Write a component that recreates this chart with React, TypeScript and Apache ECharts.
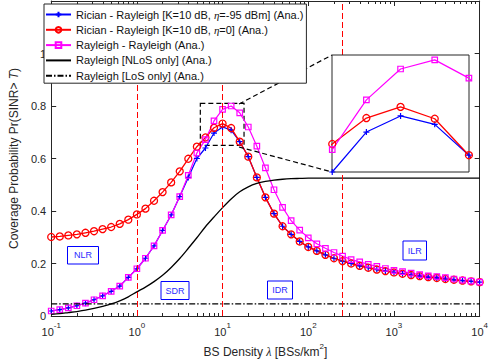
import React, { useEffect, useRef } from 'react';
import * as echarts from 'echarts';

// BS density lambda [BSs/km^2] (0.1 decade steps)
const lambdaVals = [
  0.1, 0.1259, 0.1585, 0.1995, 0.2512, 0.3162, 0.3981, 0.5012, 0.631, 0.7943,
  1, 1.259, 1.585, 1.995, 2.512, 3.162, 3.981, 5.012, 6.31, 7.943,
  10, 12.59, 15.85, 19.95, 25.12, 31.62, 39.81, 50.12, 63.1, 79.43,
  100, 125.9, 158.5, 199.5, 251.2, 316.2, 398.1, 501.2, 631, 794.3,
  1000, 1259, 1585, 1995, 2512, 3162, 3981, 5012, 6310, 7943, 10000,
];

const ricianEta95 = [
  0.019, 0.024, 0.031, 0.039, 0.049, 0.062, 0.077, 0.094, 0.114, 0.147,
  0.180, 0.220, 0.267, 0.326, 0.385, 0.455, 0.528, 0.600, 0.640, 0.697,
  0.720, 0.708, 0.664, 0.607, 0.528, 0.452, 0.390, 0.342, 0.311, 0.284,
  0.263, 0.248, 0.233, 0.220, 0.209, 0.200, 0.191, 0.184, 0.177, 0.171,
  0.166, 0.161, 0.156, 0.152, 0.148, 0.145, 0.141, 0.138, 0.135, 0.132, 0.129,
];

const ricianEta0 = [
  0.301, 0.303, 0.307, 0.311, 0.317, 0.323, 0.331, 0.339, 0.351, 0.367,
  0.387, 0.409, 0.439, 0.472, 0.509, 0.551, 0.599, 0.645, 0.680, 0.717,
  0.733, 0.716, 0.664, 0.607, 0.528, 0.452, 0.390, 0.342, 0.311, 0.284,
  0.263, 0.248, 0.233, 0.220, 0.209, 0.200, 0.191, 0.184, 0.177, 0.171,
  0.166, 0.161, 0.156, 0.152, 0.148, 0.145, 0.141, 0.138, 0.135, 0.132, 0.129,
];

const rayleighRayleigh = [
  0.019, 0.024, 0.031, 0.039, 0.049, 0.062, 0.077, 0.094, 0.114, 0.147,
  0.180, 0.220, 0.267, 0.326, 0.385, 0.455, 0.536, 0.621, 0.672, 0.743,
  0.787, 0.800, 0.774, 0.720, 0.647, 0.564, 0.481, 0.414, 0.363, 0.327,
  0.298, 0.275, 0.258, 0.242, 0.228, 0.215, 0.206, 0.197, 0.189, 0.181,
  0.174, 0.169, 0.163, 0.158, 0.153, 0.150, 0.146, 0.141, 0.137, 0.133, 0.129,
];

const nlosOnly = [
  0.006, 0.009, 0.013, 0.017, 0.022, 0.029, 0.037, 0.046, 0.058, 0.073,
  0.092, 0.110, 0.131, 0.155, 0.185, 0.219, 0.258, 0.298, 0.340, 0.377,
  0.413, 0.446, 0.473, 0.492, 0.505, 0.513, 0.518, 0.521, 0.523, 0.524,
  0.525, 0.525, 0.525, 0.525, 0.525, 0.525, 0.525, 0.525, 0.525, 0.525,
  0.525, 0.525, 0.525, 0.525, 0.525, 0.525, 0.525, 0.525, 0.525, 0.525, 0.525,
];

const losOnly = [
  0.046, 0.046, 0.046, 0.046, 0.046, 0.046, 0.046, 0.046, 0.046, 0.046,
  0.046, 0.046, 0.046, 0.046, 0.046, 0.046, 0.046, 0.046, 0.046, 0.046,
  0.046, 0.046, 0.046, 0.046, 0.046, 0.046, 0.046, 0.046, 0.046, 0.046,
  0.046, 0.046, 0.046, 0.046, 0.046, 0.046, 0.046, 0.046, 0.046, 0.046,
  0.046, 0.046, 0.046, 0.046, 0.046, 0.046, 0.046, 0.046, 0.046, 0.046, 0.046,
];

const seriesNames = [
  'Rician - Rayleigh [K=10 dB, η=-95 dBm] (Ana.)',
  'Rician - Rayleigh [K=10 dB, η=0] (Ana.)',
  'Rayleigh - Rayleigh (Ana.)',
  'Rayleigh [NLoS only] (Ana.)',
  'Rayleigh [LoS only] (Ana.)',
];

// region boundaries (vertical dashed lines)
const regionBounds = [1, 10, 250];
const regionLabels = ['NLR', 'SDR', 'IDR', 'ILR'];

// zoom window shown in inset
const zoomX = [5.5, 17.8];
const zoomY = [0.65, 0.81];
const insetX = [6.3, 15.86];
const insetY = [0.64, 0.807];

const minorTicks = [
  0.2, 0.3, 0.4, 0.5, 0.6, 0.7, 0.8, 0.9,
  2, 3, 4, 5, 6, 7, 8, 9,
  20, 30, 40, 50, 60, 70, 80, 90,
  200, 300, 400, 500, 600, 700, 800, 900,
  2000, 3000, 4000, 5000, 6000, 7000, 8000, 9000,
];

const FONT = "'Liberation Sans', Arial, Helvetica, sans-serif";
const AX = '#262626';
const BLUE = '#0000ff';
const RED = '#ff0000';
const MAG = '#ff00ff';

const zip = (ys: number[]) => lambdaVals.map((x, i) => [x, ys[i]]);

const PLUS = 'path://M0,5L10,5M5,0L5,10';

function curveSeries(idx: number, xAxisIndex: number, yAxisIndex: number, z: number) {
  const common: any = {
    type: 'line',
    name: seriesNames[idx],
    xAxisIndex,
    yAxisIndex,
    z,
    clip: true,
    silent: true,
  };
  if (idx === 0) {
    return {
      ...common,
      data: zip(ricianEta95),
      symbol: PLUS,
      symbolSize: 6,
      lineStyle: { color: BLUE, width: 1.2 },
      itemStyle: { color: BLUE, borderColor: BLUE, borderWidth: 1.2 },
    };
  }
  if (idx === 1) {
    return {
      ...common,
      data: zip(ricianEta0),
      symbol: 'circle',
      symbolSize: 7,
      lineStyle: { color: RED, width: 1.3 },
      itemStyle: { color: 'rgba(0,0,0,0)', borderColor: RED, borderWidth: 1.3 },
    };
  }
  return {
    ...common,
    data: zip(rayleighRayleigh),
    symbol: 'rect',
    symbolSize: 5.5,
    lineStyle: { color: MAG, width: 1.2 },
    itemStyle: { color: 'rgba(0,0,0,0)', borderColor: MAG, borderWidth: 1.2 },
  };
}

function regionBox(label: string, x: number, y: number, w: number, h: number) {
  return {
    type: 'group',
    z: 6,
    children: [
      {
        type: 'rect',
        shape: { x, y, width: w, height: h },
        style: { fill: '#fff', stroke: BLUE, lineWidth: 1 },
        z: 6,
      },
      {
        type: 'text',
        x: x + w / 2,
        y: y + h / 2,
        style: {
          text: label,
          fill: '#2b2bff',
          font: `9px ${FONT}`,
          align: 'center',
          verticalAlign: 'middle',
        },
        z: 7,
      },
    ],
  };
}

export default function App() {
  const ref = useRef<HTMLDivElement>(null);
  useEffect(() => {
    const chart = echarts.init(ref.current!, undefined, { renderer: 'svg' });
    const xLabelRich = {
      b: { fontSize: 11, fontFamily: FONT, color: AX, lineHeight: 16, verticalAlign: 'bottom' },
      s: { fontSize: 8, fontFamily: FONT, color: AX, lineHeight: 8, verticalAlign: 'top' },
    };
    const hiddenSymbol = { color: 'rgba(0,0,0,0)', borderColor: 'rgba(0,0,0,0)', borderWidth: 0 };
    const option: any = {
      animation: false,
      backgroundColor: '#fff',
      textStyle: { fontFamily: FONT },
      grid: [
        { left: 40, right: 9, top: 1, bottom: 44, show: false },
        {
          left: 332, top: 55, width: 137, height: 117, show: true,
          backgroundColor: '#fff', borderColor: AX, borderWidth: 1, z: 10,
        },
      ],
      legend: {
        data: [
          { name: seriesNames[0] },
          { name: seriesNames[1] },
          { name: seriesNames[2] },
          { name: seriesNames[3], itemStyle: hiddenSymbol },
          { name: seriesNames[4], itemStyle: hiddenSymbol },
        ],
        orient: 'vertical',
        left: 44,
        top: 4,
        itemWidth: 25,
        itemHeight: 7,
        itemGap: 2.3,
        padding: [4, 3, 1, 1],
        backgroundColor: '#fff',
        borderColor: AX,
        borderWidth: 1,
        selectedMode: false,
        z: 8,
        textStyle: {
          fontSize: 11,
          fontFamily: FONT,
          color: '#111',
          lineHeight: 13,
          rich: {
            i: { fontStyle: 'italic', fontFamily: "'Liberation Serif', serif", fontSize: 11, color: '#111' },
          },
        },
        formatter: (name: string) => name.replace('η', '{i|η}'),
      },
      xAxis: [
        {
          type: 'log', logBase: 10, gridIndex: 0, min: 0.1, max: 10000, position: 'bottom',
          axisLine: { show: true, onZero: false, lineStyle: { color: AX, width: 1 } },
          axisTick: { show: true, inside: true, length: 5, lineStyle: { color: AX } },
          axisLabel: {
            margin: 5,
            formatter: (v: number) => `{b|10}{s|${Math.round(Math.log10(v))}}`,
            rich: xLabelRich,
          },
          splitLine: { show: false },
          name: '{n|BS Density }{i|λ}{n| [BSs/km}{s|2}{n|]}',
          nameLocation: 'middle',
          nameGap: 26,
          nameTextStyle: {
            rich: {
              n: { fontSize: 12, fontFamily: FONT, color: AX, lineHeight: 16, verticalAlign: 'bottom' },
              i: { fontSize: 12, fontFamily: "'Liberation Serif', serif", fontStyle: 'italic', color: AX, lineHeight: 16, verticalAlign: 'bottom' },
              s: { fontSize: 8, fontFamily: FONT, color: AX, lineHeight: 8, verticalAlign: 'top' },
            },
          },
        },
        {
          type: 'log', logBase: 10, gridIndex: 0, min: 0.1, max: 10000, position: 'top',
          axisLine: { show: true, onZero: false, lineStyle: { color: AX, width: 1 } },
          axisTick: { show: true, inside: true, length: 5, lineStyle: { color: AX } },
          axisLabel: { show: false },
          splitLine: { show: false },
        },
        {
          type: 'log', logBase: 10, gridIndex: 0, min: 0.1, max: 10000, position: 'bottom',
          axisLine: { show: false, onZero: false },
          axisTick: { show: true, inside: true, length: 3, lineStyle: { color: AX }, customValues: minorTicks },
          axisLabel: { show: false },
          splitLine: { show: false },
        },
        {
          type: 'log', logBase: 10, gridIndex: 0, min: 0.1, max: 10000, position: 'top',
          axisLine: { show: false, onZero: false },
          axisTick: { show: true, inside: true, length: 3, lineStyle: { color: AX }, customValues: minorTicks },
          axisLabel: { show: false },
          splitLine: { show: false },
        },
        {
          type: 'log', logBase: 10, gridIndex: 1, min: insetX[0], max: insetX[1],
          axisLine: { show: false }, axisTick: { show: false }, axisLabel: { show: false },
          splitLine: { show: false }, z: 11,
        },
      ],
      yAxis: [
        {
          type: 'value', gridIndex: 0, min: 0, max: 1.2, interval: 0.2, position: 'left',
          axisLine: { show: true, onZero: false, lineStyle: { color: AX, width: 1 } },
          axisTick: { show: true, inside: true, length: 5, lineStyle: { color: AX } },
          axisLabel: {
            margin: 5, fontSize: 11, fontFamily: FONT, color: AX,
            formatter: (v: number) => (Math.abs(v - 1.2) < 1e-6 ? '' : String(+v.toFixed(1))),
          },
          splitLine: { show: false },
          name: '{n|Coverage Probability Pr(SINR> }{i|T}{n|)}',
          nameLocation: 'middle',
          nameGap: 22,
          nameTextStyle: {
            rich: {
              n: { fontSize: 12, fontFamily: FONT, color: AX },
              i: { fontSize: 12, fontFamily: FONT, fontStyle: 'italic', color: AX },
            },
          },
        },
        {
          type: 'value', gridIndex: 0, min: 0, max: 1.2, interval: 0.2, position: 'right',
          axisLine: { show: true, onZero: false, lineStyle: { color: AX, width: 1 } },
          axisTick: { show: true, inside: true, length: 5, lineStyle: { color: AX } },
          axisLabel: { show: false },
          splitLine: { show: false },
        },
        {
          type: 'value', gridIndex: 1, min: insetY[0], max: insetY[1],
          axisLine: { show: false }, axisTick: { show: false }, axisLabel: { show: false },
          splitLine: { show: false }, z: 11,
        },
      ],
      series: [
        curveSeries(0, 0, 0, 2),
        curveSeries(1, 0, 0, 2),
        curveSeries(2, 0, 0, 2),
        {
          type: 'line',
          name: seriesNames[3],
          xAxisIndex: 0,
          yAxisIndex: 0,
          data: zip(nlosOnly),
          symbol: 'none',
          smooth: 0.3,
          silent: true,
          lineStyle: { color: '#000', width: 1.3 },
          itemStyle: { color: '#000' },
          markLine: {
            silent: true,
            symbol: ['none', 'none'],
            label: { show: false },
            lineStyle: { color: RED, type: [6, 3], width: 1 },
            data: regionBounds.map((b) => ({ xAxis: b })),
          },
          markArea: {
            silent: true,
            itemStyle: { color: 'rgba(0,0,0,0)', borderColor: '#000', borderWidth: 1.2, borderType: [5, 3] },
            data: [[{ coord: [zoomX[0], zoomY[1]] }, { coord: [zoomX[1], zoomY[0]] }]],
          },
        },
        {
          type: 'line',
          name: seriesNames[4],
          xAxisIndex: 0,
          yAxisIndex: 0,
          data: zip(losOnly),
          symbol: 'none',
          silent: true,
          lineStyle: { color: '#000', width: 1.2, type: [6, 2, 1.5, 2] },
          itemStyle: { color: '#000' },
        },
        curveSeries(0, 4, 2, 12),
        curveSeries(1, 4, 2, 12),
        curveSeries(2, 4, 2, 12),
      ],
      graphic: [
        {
          type: 'line', z: 5,
          shape: { x1: 239, y1: 104, x2: 332, y2: 55 },
          style: { stroke: '#000', lineWidth: 1.2, lineDash: [5, 3] },
        },
        {
          type: 'line', z: 5,
          shape: { x1: 239, y1: 147, x2: 332, y2: 172 },
          style: { stroke: '#000', lineWidth: 1.2, lineDash: [5, 3] },
        },
        regionBox(regionLabels[0], 67.5, 246.5, 31, 17.5),
        regionBox(regionLabels[1], 161, 281.5, 28, 18),
        regionBox(regionLabels[2], 267.5, 281, 25, 18),
        regionBox(regionLabels[3], 403, 241, 23.5, 19),
      ],
    };
    chart.setOption(option);
    return () => chart.dispose();
  }, []);
  return <div ref={ref} style={{ position: 'fixed', left: 0, top: 0, width: 491, height: 363 }} />;
}
